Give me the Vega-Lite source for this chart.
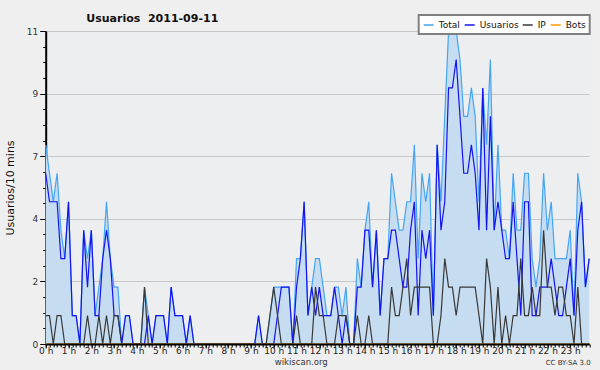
{
  "$schema": "https://vega.github.io/schema/vega-lite/v6.json",
  "width": 543.5,
  "height": 313,
  "autosize": {"type": "none"},
  "padding": {"left": 45.7, "top": 31, "right": 10.8, "bottom": 26},
  "background": "#efefef",
  "title": {"text": "Usuarios \u00a02011-09-11", "anchor": "start", "dx": 82, "offset": -10, "fontSize": 11, "font": "DejaVu Sans", "fontWeight": "bold", "color": "#111111"},
  "config": {
    "view": {"stroke": null, "fill": "#edeef0"},
    "font": "DejaVu Sans",
    "legend": {"strokeWidth": 2}
  },
  "data": {"values": [
    {"t":0,"Total":7,"Usuarios":6,"IP":1,"Bots":0},
    {"t":1,"Total":6,"Usuarios":5,"IP":1,"Bots":0},
    {"t":2,"Total":5,"Usuarios":5,"IP":0,"Bots":0},
    {"t":3,"Total":6,"Usuarios":5,"IP":1,"Bots":0},
    {"t":4,"Total":4,"Usuarios":3,"IP":1,"Bots":0},
    {"t":5,"Total":3,"Usuarios":3,"IP":0,"Bots":0},
    {"t":6,"Total":5,"Usuarios":5,"IP":0,"Bots":0},
    {"t":7,"Total":1,"Usuarios":1,"IP":0,"Bots":0},
    {"t":8,"Total":1,"Usuarios":1,"IP":0,"Bots":0},
    {"t":9,"Total":0,"Usuarios":0,"IP":0,"Bots":0},
    {"t":10,"Total":4,"Usuarios":4,"IP":0,"Bots":0},
    {"t":11,"Total":3,"Usuarios":2,"IP":1,"Bots":0},
    {"t":12,"Total":4,"Usuarios":4,"IP":0,"Bots":0},
    {"t":13,"Total":1,"Usuarios":1,"IP":0,"Bots":0},
    {"t":14,"Total":2,"Usuarios":1,"IP":1,"Bots":0},
    {"t":15,"Total":3,"Usuarios":3,"IP":0,"Bots":0},
    {"t":16,"Total":5,"Usuarios":4,"IP":1,"Bots":0},
    {"t":17,"Total":3,"Usuarios":3,"IP":0,"Bots":0},
    {"t":18,"Total":2,"Usuarios":1,"IP":1,"Bots":0},
    {"t":19,"Total":2,"Usuarios":1,"IP":1,"Bots":0},
    {"t":20,"Total":0,"Usuarios":0,"IP":0,"Bots":0},
    {"t":21,"Total":1,"Usuarios":1,"IP":0,"Bots":0},
    {"t":22,"Total":1,"Usuarios":1,"IP":0,"Bots":0},
    {"t":23,"Total":0,"Usuarios":0,"IP":0,"Bots":0},
    {"t":24,"Total":0,"Usuarios":0,"IP":0,"Bots":0},
    {"t":25,"Total":0,"Usuarios":0,"IP":0,"Bots":0},
    {"t":26,"Total":2,"Usuarios":0,"IP":2,"Bots":0},
    {"t":27,"Total":1,"Usuarios":1,"IP":0,"Bots":0},
    {"t":28,"Total":0,"Usuarios":0,"IP":0,"Bots":0},
    {"t":29,"Total":1,"Usuarios":1,"IP":0,"Bots":0},
    {"t":30,"Total":1,"Usuarios":1,"IP":0,"Bots":0},
    {"t":31,"Total":1,"Usuarios":1,"IP":0,"Bots":0},
    {"t":32,"Total":0,"Usuarios":0,"IP":0,"Bots":0},
    {"t":33,"Total":2,"Usuarios":2,"IP":0,"Bots":0},
    {"t":34,"Total":1,"Usuarios":1,"IP":0,"Bots":0},
    {"t":35,"Total":1,"Usuarios":1,"IP":0,"Bots":0},
    {"t":36,"Total":1,"Usuarios":1,"IP":0,"Bots":0},
    {"t":37,"Total":0,"Usuarios":0,"IP":0,"Bots":0},
    {"t":38,"Total":1,"Usuarios":1,"IP":0,"Bots":0},
    {"t":39,"Total":0,"Usuarios":0,"IP":0,"Bots":0},
    {"t":40,"Total":0,"Usuarios":0,"IP":0,"Bots":0},
    {"t":41,"Total":0,"Usuarios":0,"IP":0,"Bots":0},
    {"t":42,"Total":0,"Usuarios":0,"IP":0,"Bots":0},
    {"t":43,"Total":0,"Usuarios":0,"IP":0,"Bots":0},
    {"t":44,"Total":0,"Usuarios":0,"IP":0,"Bots":0},
    {"t":45,"Total":0,"Usuarios":0,"IP":0,"Bots":0},
    {"t":46,"Total":0,"Usuarios":0,"IP":0,"Bots":0},
    {"t":47,"Total":0,"Usuarios":0,"IP":0,"Bots":0},
    {"t":48,"Total":0,"Usuarios":0,"IP":0,"Bots":0},
    {"t":49,"Total":0,"Usuarios":0,"IP":0,"Bots":0},
    {"t":50,"Total":0,"Usuarios":0,"IP":0,"Bots":0},
    {"t":51,"Total":0,"Usuarios":0,"IP":0,"Bots":0},
    {"t":52,"Total":0,"Usuarios":0,"IP":0,"Bots":0},
    {"t":53,"Total":0,"Usuarios":0,"IP":0,"Bots":0},
    {"t":54,"Total":0,"Usuarios":0,"IP":0,"Bots":0},
    {"t":55,"Total":0,"Usuarios":0,"IP":0,"Bots":0},
    {"t":56,"Total":1,"Usuarios":1,"IP":0,"Bots":0},
    {"t":57,"Total":0,"Usuarios":0,"IP":0,"Bots":0},
    {"t":58,"Total":0,"Usuarios":0,"IP":0,"Bots":0},
    {"t":59,"Total":1,"Usuarios":0,"IP":1,"Bots":0},
    {"t":60,"Total":2,"Usuarios":0,"IP":2,"Bots":0},
    {"t":61,"Total":2,"Usuarios":1,"IP":1,"Bots":0},
    {"t":62,"Total":2,"Usuarios":2,"IP":0,"Bots":0},
    {"t":63,"Total":2,"Usuarios":2,"IP":0,"Bots":0},
    {"t":64,"Total":2,"Usuarios":2,"IP":0,"Bots":0},
    {"t":65,"Total":0,"Usuarios":0,"IP":0,"Bots":0},
    {"t":66,"Total":3,"Usuarios":2,"IP":1,"Bots":0},
    {"t":67,"Total":3,"Usuarios":3,"IP":0,"Bots":0},
    {"t":68,"Total":5,"Usuarios":5,"IP":0,"Bots":0},
    {"t":69,"Total":1,"Usuarios":1,"IP":0,"Bots":0},
    {"t":70,"Total":2,"Usuarios":2,"IP":0,"Bots":0},
    {"t":71,"Total":3,"Usuarios":1,"IP":2,"Bots":0},
    {"t":72,"Total":3,"Usuarios":2,"IP":1,"Bots":0},
    {"t":73,"Total":2,"Usuarios":1,"IP":1,"Bots":0},
    {"t":74,"Total":1,"Usuarios":1,"IP":0,"Bots":0},
    {"t":75,"Total":1,"Usuarios":1,"IP":0,"Bots":0},
    {"t":76,"Total":2,"Usuarios":2,"IP":0,"Bots":0},
    {"t":77,"Total":2,"Usuarios":1,"IP":1,"Bots":0},
    {"t":78,"Total":1,"Usuarios":0,"IP":1,"Bots":0},
    {"t":79,"Total":2,"Usuarios":1,"IP":1,"Bots":0},
    {"t":80,"Total":0,"Usuarios":0,"IP":0,"Bots":0},
    {"t":81,"Total":0,"Usuarios":0,"IP":0,"Bots":0},
    {"t":82,"Total":3,"Usuarios":2,"IP":1,"Bots":0},
    {"t":83,"Total":2,"Usuarios":2,"IP":0,"Bots":0},
    {"t":84,"Total":4,"Usuarios":4,"IP":0,"Bots":0},
    {"t":85,"Total":5,"Usuarios":4,"IP":1,"Bots":0},
    {"t":86,"Total":2,"Usuarios":2,"IP":0,"Bots":0},
    {"t":87,"Total":4,"Usuarios":4,"IP":0,"Bots":0},
    {"t":88,"Total":1,"Usuarios":1,"IP":0,"Bots":0},
    {"t":89,"Total":3,"Usuarios":3,"IP":0,"Bots":0},
    {"t":90,"Total":3,"Usuarios":3,"IP":0,"Bots":0},
    {"t":91,"Total":6,"Usuarios":4,"IP":2,"Bots":0},
    {"t":92,"Total":5,"Usuarios":4,"IP":1,"Bots":0},
    {"t":93,"Total":4,"Usuarios":3,"IP":1,"Bots":0},
    {"t":94,"Total":4,"Usuarios":2,"IP":2,"Bots":0},
    {"t":95,"Total":5,"Usuarios":2,"IP":3,"Bots":0},
    {"t":96,"Total":5,"Usuarios":4,"IP":1,"Bots":0},
    {"t":97,"Total":7,"Usuarios":5,"IP":2,"Bots":0},
    {"t":98,"Total":3,"Usuarios":1,"IP":2,"Bots":0},
    {"t":99,"Total":6,"Usuarios":4,"IP":2,"Bots":0},
    {"t":100,"Total":5,"Usuarios":3,"IP":2,"Bots":0},
    {"t":101,"Total":6,"Usuarios":4,"IP":2,"Bots":0},
    {"t":102,"Total":1,"Usuarios":1,"IP":0,"Bots":0},
    {"t":103,"Total":7,"Usuarios":7,"IP":0,"Bots":0},
    {"t":104,"Total":5,"Usuarios":4,"IP":1,"Bots":0},
    {"t":105,"Total":8,"Usuarios":5,"IP":3,"Bots":0},
    {"t":106,"Total":11,"Usuarios":9,"IP":2,"Bots":0},
    {"t":107,"Total":11,"Usuarios":9,"IP":2,"Bots":0},
    {"t":108,"Total":11,"Usuarios":10,"IP":1,"Bots":0},
    {"t":109,"Total":10,"Usuarios":8,"IP":2,"Bots":0},
    {"t":110,"Total":8,"Usuarios":6,"IP":2,"Bots":0},
    {"t":111,"Total":8,"Usuarios":6,"IP":2,"Bots":0},
    {"t":112,"Total":9,"Usuarios":7,"IP":2,"Bots":0},
    {"t":113,"Total":8,"Usuarios":6,"IP":2,"Bots":0},
    {"t":114,"Total":5,"Usuarios":4,"IP":1,"Bots":0},
    {"t":115,"Total":9,"Usuarios":9,"IP":0,"Bots":0},
    {"t":116,"Total":7,"Usuarios":4,"IP":3,"Bots":0},
    {"t":117,"Total":10,"Usuarios":8,"IP":2,"Bots":0},
    {"t":118,"Total":4,"Usuarios":4,"IP":0,"Bots":0},
    {"t":119,"Total":7,"Usuarios":5,"IP":2,"Bots":0},
    {"t":120,"Total":4,"Usuarios":4,"IP":0,"Bots":0},
    {"t":121,"Total":4,"Usuarios":3,"IP":1,"Bots":0},
    {"t":122,"Total":3,"Usuarios":3,"IP":0,"Bots":0},
    {"t":123,"Total":6,"Usuarios":5,"IP":1,"Bots":0},
    {"t":124,"Total":4,"Usuarios":3,"IP":1,"Bots":0},
    {"t":125,"Total":4,"Usuarios":1,"IP":3,"Bots":0},
    {"t":126,"Total":6,"Usuarios":5,"IP":1,"Bots":0},
    {"t":127,"Total":6,"Usuarios":5,"IP":1,"Bots":0},
    {"t":128,"Total":3,"Usuarios":1,"IP":2,"Bots":0},
    {"t":129,"Total":2,"Usuarios":1,"IP":1,"Bots":0},
    {"t":130,"Total":3,"Usuarios":2,"IP":1,"Bots":0},
    {"t":131,"Total":6,"Usuarios":2,"IP":4,"Bots":0},
    {"t":132,"Total":4,"Usuarios":2,"IP":2,"Bots":0},
    {"t":133,"Total":5,"Usuarios":3,"IP":2,"Bots":0},
    {"t":134,"Total":3,"Usuarios":2,"IP":1,"Bots":0},
    {"t":135,"Total":3,"Usuarios":1,"IP":2,"Bots":0},
    {"t":136,"Total":3,"Usuarios":1,"IP":2,"Bots":0},
    {"t":137,"Total":3,"Usuarios":2,"IP":1,"Bots":0},
    {"t":138,"Total":4,"Usuarios":3,"IP":1,"Bots":0},
    {"t":139,"Total":1,"Usuarios":1,"IP":0,"Bots":0},
    {"t":140,"Total":6,"Usuarios":4,"IP":2,"Bots":0},
    {"t":141,"Total":5,"Usuarios":5,"IP":0,"Bots":0},
    {"t":142,"Total":2,"Usuarios":2,"IP":0,"Bots":0},
    {"t":143,"Total":3,"Usuarios":3,"IP":0,"Bots":0}
  ]},
  "layer": [
    {
      "mark": {"type": "area", "color": "#c6dcf0"},
      "encoding": {
        "x": {"field": "t", "type": "quantitative",
          "scale": {"domain": [0, 143], "nice": false, "zero": false},
          "axis": {"orient": "bottom", "values": [0,6,12,18,24,30,36,42,48,54,60,66,72,78,84,90,96,102,108,114,120,126,132,138],
            "labelExpr": "(datum.value/6) + ' h'", "labelFontSize": 9, "labelColor": "#222222", "labelPadding": -2,
            "labelFlush": false, "labelOverlap": false, "tickSize": 4, "tickColor": "#000000",
            "domainColor": "#000000", "domainWidth": 2, "grid": false, "zindex": 1,
            "title": "wikiscan.org", "titleFontSize": 8.5, "titleFontWeight": "normal", "titleColor": "#333333",
            "titleX": 255, "titleY": 17, "titleBaseline": "middle"}},
        "y": {"field": "Total", "type": "quantitative",
          "scale": {"domain": [0, 11], "nice": false},
          "axis": {"orient": "left", "values": [0, 2.2, 4.4, 6.6, 8.8, 11], "labelExpr": "round(datum.value)",
            "labelFontSize": 9, "labelColor": "#333333", "labelPadding": 2, "tickSize": 6, "tickColor": "#000000",
            "domainColor": "#000000", "domainWidth": 2, "grid": true, "gridColor": "#c8c8c8", "gridWidth": 1,
            "title": "Usuarios/10 mins", "titleFontSize": 11, "titleFontWeight": "normal", "titleColor": "#111111",
            "titlePadding": 11}}
      }
    },
    {
      "transform": [{"fold": ["Total", "Usuarios", "IP", "Bots"], "as": ["serie", "valor"]}],
      "mark": {"type": "line", "strokeWidth": 1.2},
      "encoding": {
        "x": {"field": "t", "type": "quantitative",
          "axis": {"orient": "bottom", "values": [0,1,2,3,4,5,6,7,8,9,10,11,12,13,14,15,16,17,18,19,20,21,22,23,24,25,26,27,28,29,30,31,32,33,34,35,36,37,38,39,40,41,42,43,44,45,46,47,48,49,50,51,52,53,54,55,56,57,58,59,60,61,62,63,64,65,66,67,68,69,70,71,72,73,74,75,76,77,78,79,80,81,82,83,84,85,86,87,88,89,90,91,92,93,94,95,96,97,98,99,100,101,102,103,104,105,106,107,108,109,110,111,112,113,114,115,116,117,118,119,120,121,122,123,124,125,126,127,128,129,130,131,132,133,134,135,136,137,138,139,140,141,142,143],
            "labels": false, "tickSize": 3, "tickColor": "#000000", "domain": false, "grid": false,
            "title": "CC BY-SA 3.0", "titleFontSize": 7, "titleFontWeight": "normal", "titleColor": "#333333",
            "titleX": 522, "titleY": 18, "titleBaseline": "middle"}},
        "y": {"field": "valor", "type": "quantitative",
          "axis": {"orient": "left", "values": [0.55,1.1,1.65,2.75,3.3,3.85,4.95,5.5,6.05,7.15,7.7,8.25,9.35,9.9,10.45],
            "labels": false, "tickSize": 3, "tickColor": "#000000", "domain": false, "grid": false, "title": null}},
        "color": {"field": "serie", "type": "nominal",
          "scale": {"domain": ["Total", "Usuarios", "IP", "Bots"], "range": ["#45a5f5", "#1414f0", "#383838", "#ff9a00"]},
          "legend": {"orient": "none", "legendX": 373, "legendY": -16, "direction": "horizontal", "title": null,
            "fillColor": "#ffffff", "strokeColor": "#808080", "padding": 4,
            "symbolType": "stroke", "symbolSize": 100, "symbolStrokeWidth": 1.5,
            "labelFontSize": 9, "labelColor": "#111111", "labelOffset": 4, "columnPadding": 1}}
      }
    }
  ],
  "resolve": {"axis": {"x": "independent", "y": "independent"}}
}
